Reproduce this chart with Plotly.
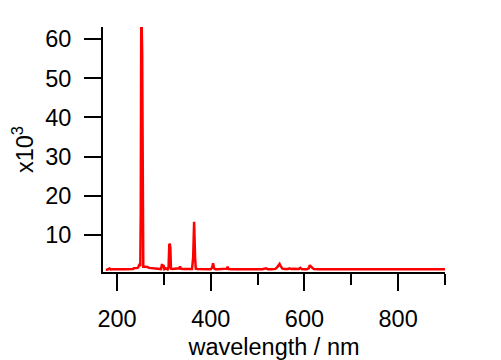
import numpy as np
import plotly.graph_objects as go

# Emission spectrum (wavelength in nm, intensity in counts)
wavelength_nm = [
    176, 180, 184, 186, 190, 195, 200, 205, 210, 215, 220, 225, 230, 234, 236, 240, 244, 246, 248,
    249.6, 250.6, 251.6, 252.6, 253.6, 254.6,
    256, 260, 265, 268, 275, 281, 285, 290, 294, 296, 297.5, 299, 301, 303, 305, 308,
    310, 311.5, 312.8, 313.8, 315, 318, 322, 326, 330, 333, 334.5, 336, 340, 345, 350, 355, 360,
    362.5, 364.5, 366.5, 368, 372, 376, 380, 385, 390, 395, 400, 403, 405, 407, 410, 415, 420,
    425, 430, 434, 436, 438, 445, 450, 460, 470, 480, 490, 500, 510, 518, 522, 530, 538, 542,
    545, 547, 550, 553, 558, 565, 568, 572, 577, 580, 588, 591, 594, 600, 605, 609, 611.5, 614,
    617, 620, 630, 640, 650, 660, 670, 680, 690, 700, 710, 720, 730, 740, 750, 760, 770, 780,
    790, 800, 810, 820, 830, 840, 850, 860, 870, 880, 890, 900,
]
intensity_counts = [
    1150, 1200, 1450, 1200, 1250, 1200, 1220, 1250, 1230, 1250, 1240, 1260, 1280, 1300, 1500, 1550, 1600, 1900, 2600,
    2000, 15600, 63300, 63000, 56400, 2300,
    1900, 1900, 1850, 1600, 1500, 1400, 1250, 1250, 1300, 2600, 1900, 2300, 1300, 1500, 1300, 1250,
    1800, 7700, 7600, 6600, 1400, 1300, 1350, 1300, 1300, 1500, 2000, 1400, 1300, 1300, 1350, 1300, 1300,
    4300, 13400, 4300, 1400, 1300, 1300, 1250, 1250, 1250, 1250, 1250, 1700, 2800, 1500, 1250, 1250, 1250,
    1250, 1250, 1400, 1900, 1300, 1250, 1250, 1250, 1250, 1250, 1250, 1250, 1250, 1500, 1250, 1250, 1350, 1800,
    2500, 2600, 1900, 1400, 1300, 1300, 1500, 1300, 1350, 1300, 1300, 1600, 1300, 1250, 1250, 1500, 2300, 1900,
    1500, 1300, 1250, 1250, 1220, 1250, 1230, 1250, 1240, 1250, 1230, 1250, 1240, 1220, 1250, 1230, 1250, 1240,
    1250, 1230, 1250, 1240, 1230, 1250, 1240, 1230, 1250, 1240, 1230, 1250,
]

x_tick_vals = [200, 400, 600, 800]
x_minor_tick_vals = [300, 500, 700, 900]
y_tick_vals = [10, 20, 30, 40, 50, 60]

y_thousands = np.array(intensity_counts) / 1000.0

FONT = "Liberation Sans, Arial, sans-serif"
FSIZE = 23.5

fig = go.Figure()
fig.add_trace(go.Scatter(
    x=wavelength_nm, y=y_thousands, mode="lines",
    line=dict(color="#FF0000", width=2.5), showlegend=False,
))

# the page body has an 8px margin, so the figure is sized/offset to compensate
fig.update_layout(
    width=493, height=352,
    margin=dict(l=95, r=56, t=19, b=88),
    paper_bgcolor="white", plot_bgcolor="white",
    font=dict(family=FONT, size=FSIZE, color="black"),
)
fig.update_xaxes(
    range=[170, 900], showgrid=False, zeroline=False, automargin=False,
    showline=True, linecolor="black", linewidth=2,
    ticks="outside", ticklen=17, tickwidth=2, tickcolor="black",
    tickvals=x_tick_vals, ticklabelstandoff=8,
    minor=dict(ticks="outside", ticklen=11, tickwidth=2, tickcolor="black", tickvals=x_minor_tick_vals),
    title=dict(text="wavelength / nm", standoff=8, font=dict(family=FONT, size=FSIZE, color="black")),
)
fig.update_yaxes(
    range=[0.55, 63.1], showgrid=False, zeroline=False, automargin=False,
    showline=True, linecolor="black", linewidth=2,
    ticks="outside", ticklen=17, tickwidth=2, tickcolor="black",
    tickvals=y_tick_vals, ticklabelstandoff=8,
    title=dict(text="x10<sup>3</sup>", standoff=13, font=dict(family=FONT, size=FSIZE, color="black")),
)

fig.write_html("out.html")
